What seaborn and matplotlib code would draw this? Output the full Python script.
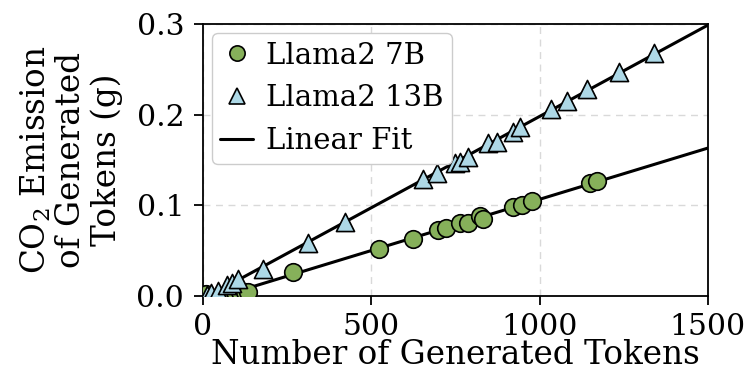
import numpy as np
import pandas as pd
import matplotlib
matplotlib.use("Agg")
import matplotlib.pyplot as plt
import seaborn as sns
from matplotlib.lines import Line2D

# Data
tokens_7b = [10, 74, 95, 110, 125, 134, 267, 523, 624, 698, 722, 763, 787, 823, 832, 921, 948, 977, 1149, 1170]
co2_7b = [0.002, 0.003, 0.004, 0.004, 0.005, 0.005, 0.026, 0.052, 0.063, 0.073, 0.075, 0.081, 0.081, 0.088, 0.085,
          0.098, 0.100, 0.105, 0.125, 0.127]
tokens_13b = [12, 24, 45, 71, 86, 104, 178, 312, 422, 653, 695, 749, 763, 787, 847, 873, 921, 942, 1034, 1081,
              1141, 1236, 1340]
co2_13b = [0.001, 0.003, 0.0055, 0.012, 0.014, 0.019, 0.030, 0.058, 0.082, 0.129, 0.136, 0.147, 0.148, 0.153,
           0.169, 0.170, 0.181, 0.186, 0.206, 0.215, 0.228, 0.247, 0.268]
labels = ["Llama2 7B", "Llama2 13B", "Linear Fit"]
xticks = [0, 500, 1000, 1500]
yticks = [0.0, 0.1, 0.2, 0.3]

sns.set_style("ticks")
plt.rcParams['font.family'] = ['DejaVu Serif']
plt.rcParams['mathtext.fontset'] = 'dejavuserif'
plt.rcParams['text.color'] = 'black'
plt.rcParams['axes.labelcolor'] = 'black'
plt.rcParams['xtick.color'] = 'black'
plt.rcParams['ytick.color'] = 'black'
FS_TICK = 21.5
FS_LABEL = 23.5
FS_LEG = 21

fig = plt.figure(figsize=(7.49, 3.71), dpi=100)
ax = fig.add_axes([0.271, 0.202, 0.674, 0.733])

green = '#86b05a'
blue = '#add8e6'

xfit = np.array([0, 1500])
for xs, ys in [(tokens_7b, co2_7b), (tokens_13b, co2_13b)]:
    m, b = np.polyfit(xs, ys, 1)
    sns.lineplot(x=xfit, y=m * xfit + b, ax=ax, color='black', lw=2.2, zorder=2)

sns.scatterplot(x=tokens_7b, y=co2_7b, ax=ax, marker='o', s=160, color=green,
                edgecolor='black', linewidth=1.2, zorder=3)
sns.scatterplot(x=tokens_13b, y=co2_13b, ax=ax, marker='^', s=170, color=blue,
                edgecolor='black', linewidth=1.2, zorder=3)

ax.set_xlim(0, 1500)
ax.set_ylim(0, 0.3)
ax.set_xticks(xticks)
ax.set_yticks(yticks)
ax.set_yticklabels([f"{v:.1f}" for v in yticks])
ax.tick_params(labelsize=FS_TICK, length=6.5, width=1.3, pad=7, colors='black')
ax.tick_params(axis='x', pad=5.5)
ax.grid(True, ls=(0, (5, 4)), color='#d9d9d9', lw=1)
for sp in ax.spines.values():
    sp.set_color('black')
    sp.set_linewidth(1.3)

ax.set_xlabel("Number of Generated Tokens", fontsize=FS_LABEL, labelpad=-1, color='black')
ax.set_ylabel("CO$_2$ Emission\nof Generated\nTokens (g)", fontsize=FS_LABEL, labelpad=10,
              linespacing=1.1, color='black')

handles = [
    Line2D([], [], marker='o', ls='', markersize=11, markerfacecolor=green, markeredgecolor='black', markeredgewidth=1.2),
    Line2D([], [], marker='^', ls='', markersize=11, markerfacecolor=blue, markeredgecolor='black', markeredgewidth=1.2),
    Line2D([], [], color='black', lw=2.2),
]
ax.legend(handles, labels, loc='upper left', fontsize=FS_LEG, frameon=True, handlelength=1.1,
          handletextpad=0.45, borderpad=0.3, labelspacing=0.5, borderaxespad=0.3, framealpha=1,
          edgecolor='#cccccc', fancybox=True)

fig.savefig("out.png", dpi=100)
